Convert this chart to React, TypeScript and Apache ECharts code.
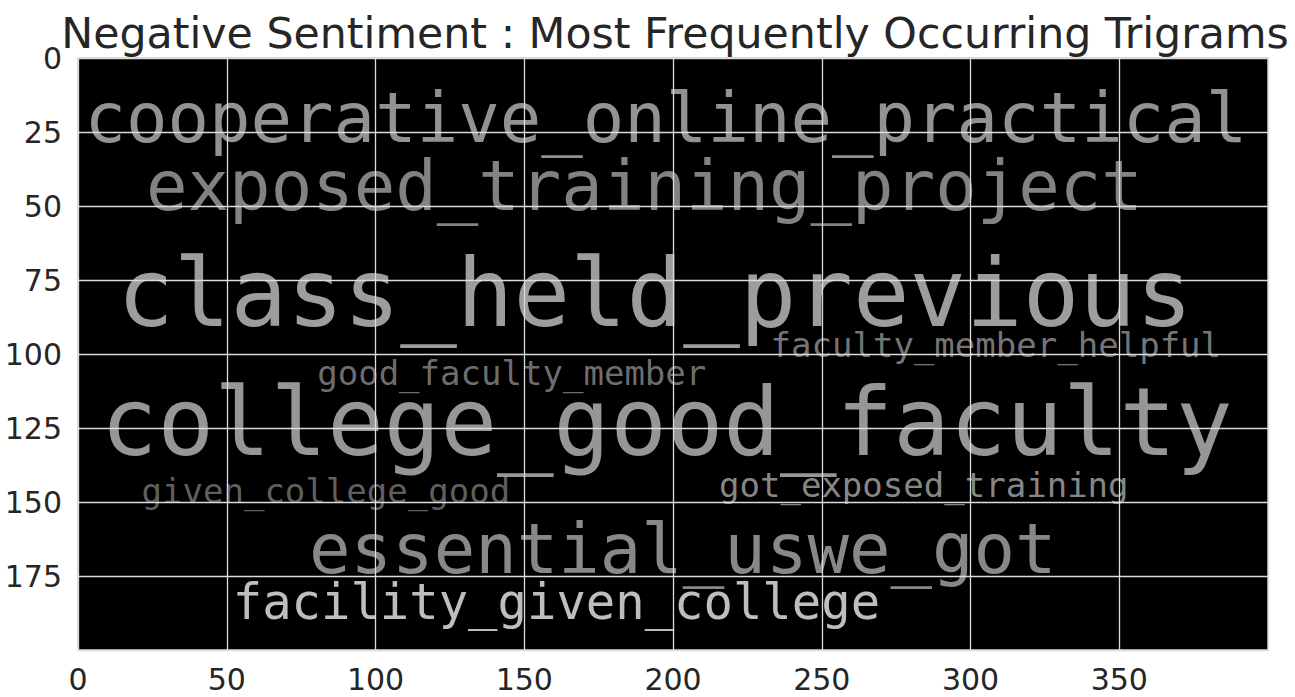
import React, { useEffect, useRef } from "react";
import * as echarts from "echarts";

// Word cloud image is 400 x 200 pixels, shown on matplotlib-like axes
const xTicks = [0, 50, 100, 150, 200, 250, 300, 350];
const yTicks = [0, 25, 50, 75, 100, 125, 150, 175];

// Trigrams as placed in the word cloud (centre x, centre y in image pixels)
const words = [
  "cooperative_online_practical",
  "exposed_training_project",
  "class_held_previous",
  "faculty_member_helpful",
  "good_faculty_member",
  "college_good_faculty",
  "given_college_good",
  "got_exposed_training",
  "essential_uswe_got",
  "facility_given_college",
];
const wordX = [197.6, 190.4, 193.9, 308.5, 145.8, 197.9, 83.3, 284.3, 203.3, 160.8];
const wordY = [20.3, 43.2, 79.6, 97.0, 106.4, 123.0, 146.3, 144.3, 165.9, 184.1];
// relative frequency weight (largest = 1)
const wordWeight = [0.734, 0.734, 1.0, 0.362, 0.362, 1.0, 0.362, 0.362, 0.734, 0.52];
// grey level of each word in the cloud
const wordGrey = [182, 162, 196, 150, 140, 188, 122, 172, 170, 238];

const TITLE = "Negative Sentiment : Most Frequently Occurring Trigrams";

export default function App() {
  const ref = useRef<HTMLDivElement>(null);
  useEffect(() => {
    if (!ref.current) return;
    const chart = echarts.init(ref.current, undefined, { renderer: "svg" });
    const maxFont = 94;
    const data = words.map((w, i) => {
      const g = wordGrey[i];
      return {
        value: [wordX[i], wordY[i]],
        name: w,
        label: {
          fontSize: wordWeight[i] * maxFont,
          color: `rgb(${g},${g},${g})`,
        },
      };
    });
    const labelStyle = {
      fontFamily: "DejaVu Sans",
      fontSize: 30,
      color: "#262626",
    };
    chart.setOption({
      animation: false,
      backgroundColor: "#ffffff",
      title: {
        text: TITLE,
        left: 670,
        top: 6,
        textAlign: "center",
        textStyle: {
          fontFamily: "DejaVu Sans",
          fontSize: 42.7,
          fontWeight: "normal",
          color: "#262626",
        },
      },
      grid: {
        left: 78,
        right: 27,
        top: 58,
        bottom: 47,
        show: true,
        backgroundColor: "#000000",
        borderColor: "#cccccc",
        borderWidth: 1.5,
      },
      xAxis: {
        type: "value",
        min: 0,
        max: 400,
        interval: 50,
        z: 10,
        axisLine: { show: false },
        axisTick: { show: false },
        axisLabel: { ...labelStyle, margin: 14, showMaxLabel: false },
        splitLine: { show: true, lineStyle: { color: "#dcdcdc", width: 1.3 } },
      },
      yAxis: {
        type: "value",
        inverse: true,
        min: 0,
        max: 200,
        interval: 25,
        z: 10,
        axisLine: { show: false },
        axisTick: { show: false },
        axisLabel: { ...labelStyle, margin: 16, showMaxLabel: false },
        splitLine: { show: true, lineStyle: { color: "#dcdcdc", width: 1.3 } },
      },
      series: [
        {
          type: "scatter",
          z: 2,
          symbolSize: 1,
          itemStyle: { color: "rgba(0,0,0,0)" },
          label: {
            show: true,
            position: "inside",
            align: "center",
            verticalAlign: "middle",
            fontFamily: "DejaVu Sans Mono",
            formatter: (p: any) => p.name,
          },
          emphasis: { disabled: true },
          data,
        },
      ],
    });
    return () => chart.dispose();
  }, []);
  return (
    <div
      ref={ref}
      style={{ position: "fixed", left: 0, top: 0, width: 1295, height: 697 }}
    />
  );
}
